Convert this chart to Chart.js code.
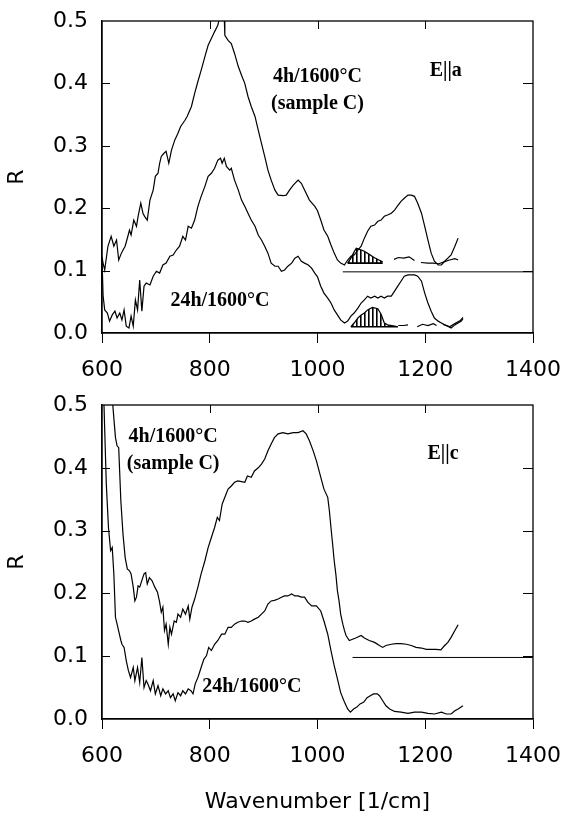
<!DOCTYPE html>
<html>
<head>
<meta charset="utf-8">
<script src="https://cdn.jsdelivr.net/npm/chart.js@4.4.1/dist/chart.umd.min.js"></script>
<style>
  body { margin: 0; background: #fff; }
  canvas { position: absolute; left: 0; }
  #top { top: 0; }
  #bottom { top: 390px; }
</style>
</head>
<body>
<canvas id="top" width="564" height="390"></canvas>
<canvas id="bottom" width="564" height="426"></canvas>
<script>
// ---- E||a panel: 4h/1600°C (sample C) ----
const wnA4 = [600,602,605,611,617,622,627,631,636,639,643,648,651,654,659,664,667,672,676,679,684,689,695,699,704,707,710,715,719,724,729,735,741,746,754,758,766,772,778,784,791,797,803,809,815,818,823,827,828,834,840,846,853,859,865,871,877,884,890,896,902,908,914,921,927,936,942,948,955,964,970,976,985,995,1000,1006,1012,1019,1025,1031,1037,1043,1050,1056,1062,1068,1075,1081,1087,1093,1099,1106,1112,1118,1124,1130,1137,1143,1149,1155,1161,1168,1174,1180,1186,1193,1199,1205,1211,1217,1224,1230,1236,1242,1248,1255,1261];
const rA4 = [0.122,0.112,0.101,0.139,0.155,0.139,0.149,0.117,0.128,0.133,0.139,0.155,0.165,0.157,0.181,0.171,0.187,0.208,0.192,0.187,0.181,0.213,0.229,0.251,0.256,0.272,0.283,0.288,0.291,0.272,0.293,0.309,0.32,0.331,0.341,0.347,0.363,0.384,0.403,0.421,0.443,0.461,0.472,0.483,0.493,0.505,0.51,0.505,0.477,0.469,0.464,0.448,0.427,0.413,0.4,0.379,0.363,0.347,0.325,0.304,0.283,0.261,0.245,0.229,0.221,0.22,0.221,0.229,0.237,0.245,0.24,0.229,0.213,0.203,0.196,0.181,0.165,0.155,0.141,0.128,0.117,0.112,0.109,0.117,0.123,0.125,0.133,0.139,0.152,0.163,0.171,0.173,0.179,0.181,0.187,0.189,0.192,0.197,0.204,0.211,0.216,0.221,0.221,0.219,0.208,0.192,0.171,0.149,0.128,0.115,0.109,0.109,0.115,0.12,0.125,0.139,0.152];

// ---- E||a panel: 24h/1600°C ----
const wnA24 = [600,602,605,610,614,619,624,628,633,637,641,645,650,654,658,662,666,670,674,678,682,689,695,701,707,713,719,726,732,738,744,750,755,760,766,772,778,784,791,797,803,809,815,820,823,827,831,837,840,846,853,859,865,871,877,884,890,896,902,908,914,921,927,933,939,945,952,958,964,970,976,983,989,995,1000,1006,1012,1019,1025,1031,1037,1043,1050,1056,1062,1068,1075,1081,1087,1093,1099,1106,1112,1118,1124,1130,1137,1143,1149,1155,1161,1168,1174,1180,1186,1193,1199,1205,1211,1217,1224,1230,1236,1242,1248,1255,1261,1267,1270];
const rA24 = [0.12,0.06,0.037,0.032,0.019,0.029,0.035,0.024,0.032,0.021,0.037,0.011,0.008,0.027,0.011,0.053,0.037,0.085,0.035,0.075,0.08,0.077,0.091,0.099,0.096,0.109,0.112,0.123,0.125,0.133,0.139,0.155,0.149,0.171,0.168,0.181,0.203,0.219,0.235,0.251,0.256,0.264,0.277,0.28,0.272,0.28,0.267,0.261,0.264,0.245,0.229,0.213,0.203,0.192,0.181,0.171,0.157,0.149,0.139,0.128,0.112,0.107,0.107,0.099,0.101,0.107,0.112,0.12,0.123,0.115,0.112,0.109,0.104,0.096,0.09,0.075,0.064,0.056,0.048,0.037,0.029,0.021,0.016,0.019,0.027,0.032,0.04,0.048,0.053,0.059,0.056,0.059,0.056,0.059,0.056,0.059,0.059,0.067,0.075,0.083,0.091,0.093,0.093,0.093,0.091,0.083,0.064,0.048,0.035,0.024,0.019,0.016,0.013,0.011,0.008,0.013,0.016,0.019,0.023];

// hatched bands + broken traces under the 1100 band (E||a)
const wnHatchA = [1056,1062,1068,1072,1078,1087,1096,1105,1114,1121];
const rHatchA = [0.112,0.12,0.13,0.136,0.134,0.131,0.126,0.121,0.117,0.114];
const baseHatchA = 0.112;
const wnTraceA = [1142,1150,1160,1170,1180,1186,1192,1205,1215,1225,1235,1245,1255,1261];
const rTraceA = [0.118,0.121,0.12,0.122,0.116,null,0.113,0.112,0.112,0.111,0.114,0.117,0.119,0.117];

const wnHatchB = [1062,1068,1075,1081,1087,1093,1102,1112,1118,1124,1130,1143,1149];
const rHatchB = [0.01,0.016,0.024,0.029,0.032,0.037,0.041,0.039,0.03,0.016,0.013,0.011,0.01];
const baseHatchB = 0.01;
const wnTraceB = [1150,1160,1168,1176,1185,1195,1205,1215,1221,1227,1233,1245,1255,1265,1270];
const rTraceB = [0.012,0.012,0.013,null,0.01,0.014,0.012,0.015,0.012,null,0.014,0.01,0.015,0.02,0.025];

// offset reference lines
const wnRefA = [1047, 1400];
const wnRefC = [1065, 1400];
const rRef = 0.098;

// ---- E||c panel: 4h/1600°C (sample C) ----
const wnC4 = [618,620,625,628,631,635,639,643,647,651,654,658,661,664,667,670,673,678,681,684,688,693,698,703,707,710,713,716,719,723,726,729,734,738,741,746,750,755,760,763,767,772,778,784,791,797,803,809,814,818,823,828,834,840,846,852,859,865,870,877,883,890,896,902,908,914,920,927,936,945,955,964,973,979,985,992,998,1006,1012,1019,1022,1025,1028,1031,1034,1037,1040,1043,1047,1050,1053,1059,1065,1071,1081,1087,1096,1106,1115,1121,1127,1137,1146,1155,1165,1174,1183,1193,1202,1211,1220,1229,1236,1242,1248,1255,1261];
const rC4 = [0.56,0.5,0.448,0.435,0.432,0.347,0.294,0.257,0.239,0.236,0.231,0.21,0.188,0.194,0.212,0.21,0.218,0.231,0.233,0.215,0.225,0.22,0.21,0.202,0.186,0.17,0.178,0.141,0.151,0.119,0.146,0.135,0.156,0.154,0.167,0.162,0.175,0.167,0.18,0.159,0.178,0.191,0.21,0.231,0.252,0.273,0.289,0.305,0.321,0.316,0.342,0.353,0.366,0.371,0.377,0.379,0.378,0.377,0.387,0.385,0.395,0.4,0.406,0.414,0.427,0.438,0.448,0.454,0.456,0.454,0.456,0.456,0.459,0.454,0.443,0.427,0.411,0.385,0.366,0.353,0.332,0.305,0.279,0.252,0.231,0.204,0.188,0.167,0.151,0.141,0.133,0.125,0.127,0.129,0.133,0.129,0.125,0.122,0.117,0.114,0.117,0.119,0.12,0.12,0.119,0.117,0.114,0.113,0.111,0.111,0.111,0.11,0.117,0.122,0.13,0.141,0.15];

// ---- E||c panel: 24h/1600°C ----
const wnC24 = [603,608,612,616,619,622,625,628,631,635,637,641,645,649,653,658,661,666,670,674,678,682,685,690,695,699,704,709,713,718,723,727,732,736,741,746,750,755,760,765,769,773,778,784,789,794,798,803,809,815,822,828,834,840,846,852,859,865,871,877,883,890,896,902,908,914,920,927,933,939,945,952,958,964,970,976,982,989,998,1006,1012,1019,1025,1031,1037,1043,1050,1056,1061,1067,1073,1079,1086,1092,1098,1104,1111,1115,1121,1127,1134,1143,1155,1168,1180,1193,1205,1217,1230,1239,1248,1255,1261,1270];
const rC24 = [0.52,0.374,0.305,0.268,0.273,0.231,0.162,0.151,0.14,0.125,0.119,0.114,0.093,0.077,0.066,0.082,0.061,0.082,0.058,0.098,0.05,0.061,0.056,0.045,0.061,0.04,0.053,0.037,0.048,0.04,0.045,0.034,0.04,0.029,0.042,0.037,0.045,0.04,0.048,0.045,0.04,0.056,0.066,0.082,0.095,0.101,0.114,0.109,0.119,0.125,0.135,0.135,0.146,0.146,0.151,0.154,0.156,0.156,0.154,0.156,0.159,0.162,0.167,0.172,0.183,0.188,0.189,0.191,0.194,0.196,0.196,0.199,0.196,0.196,0.194,0.194,0.186,0.18,0.18,0.172,0.156,0.135,0.109,0.085,0.064,0.042,0.027,0.016,0.011,0.016,0.019,0.024,0.027,0.034,0.037,0.04,0.04,0.037,0.029,0.021,0.016,0.012,0.011,0.009,0.011,0.011,0.009,0.008,0.011,0.008,0.008,0.013,0.016,0.021];

const xTicks = [600, 800, 1000, 1200, 1400];
const yTicks = [0.0, 0.1, 0.2, 0.3, 0.4, 0.5];

Chart.defaults.font.family = 'DejaVu Sans';
Chart.defaults.color = '#000';

const pts = (xs, ys) => xs.map((x, i) => ({ x, y: ys[i] }));
const flat = (xs, v) => xs.length ? [{ x: xs[0], y: v }, { x: xs[xs.length - 1], y: v }] : [];

function hatchPattern(ctx) {
    const c = document.createElement('canvas');
    c.width = 4; c.height = 4;
    const g = c.getContext('2d');
    g.fillStyle = '#000';
    g.fillRect(0, 0, 1.6, 4);
    return ctx.createPattern(c, 'repeat');
}

const line = (data, extra) => Object.assign({
    data, borderColor: '#000', borderWidth: 1.2, pointRadius: 0, fill: false, tension: 0
}, extra || {});

// inward ticks on left/right/top + frame
const frame = {
    id: 'frame',
    afterDraw(chart) {
        const { ctx, chartArea: a, scales: { x, y } } = chart;
        ctx.save();
        ctx.strokeStyle = '#000';
        ctx.lineWidth = 1;
        ctx.beginPath();
        y.ticks.forEach(t => {
            if (t.value <= y.min || t.value >= y.max) return;
            const py = Math.round(y.getPixelForValue(t.value)) + 0.5;
            ctx.moveTo(a.left, py); ctx.lineTo(a.left + 8, py);
            ctx.moveTo(a.right - 10, py); ctx.lineTo(a.right, py);
        });
        x.ticks.forEach(t => {
            if (t.value <= x.min || t.value >= x.max) return;
            const px = Math.round(x.getPixelForValue(t.value)) + 0.5;
            ctx.moveTo(px, a.top); ctx.lineTo(px, a.top + 8);
        });
        ctx.stroke();
        ctx.lineWidth = 1.3;
        ctx.strokeRect(a.left, a.top, a.right - a.left, a.bottom - a.top);
        ctx.restore();
    }
};

// bold serif labels placed in data coordinates
const notes = {
    id: 'notes',
    afterDatasetsDraw(chart, args, opts) {
        const { ctx, scales: { x, y } } = chart;
        ctx.save();
        ctx.fillStyle = '#000';
        ctx.font = 'bold 20px "Liberation Serif", "Times New Roman", serif';
        ctx.textAlign = 'center';
        ctx.textBaseline = 'alphabetic';
        (opts.items || []).forEach(n => ctx.fillText(n.text, x.getPixelForValue(n.x), y.getPixelForValue(n.y)));
        ctx.restore();
    }
};

function makeChart(id, datasets, cfg) {
    const ctx = document.getElementById(id).getContext('2d');
    return new Chart(ctx, {
        type: 'line',
        data: { datasets },
        options: {
            responsive: false,
            animation: false,
            layout: { padding: { top: cfg.padTop, right: 31, left: 0, bottom: 0 } },
            plugins: { legend: { display: false }, tooltip: { enabled: false }, notes: { items: cfg.notes } },
            scales: {
                x: {
                    type: 'linear', min: 600, max: 1400,
                    afterBuildTicks: s => { s.ticks = xTicks.map(v => ({ value: v })); },
                    afterFit: s => { s.height = cfg.xHeight; s.paddingLeft = 0; s.paddingRight = 0; },
                    grid: { drawOnChartArea: false, drawTicks: true, tickLength: 10, color: '#000', lineWidth: 1 },
                    border: { color: '#000', width: 1.3 },
                    ticks: { font: { size: 22 }, padding: 14, maxRotation: 0, callback: v => String(v) },
                    title: { display: !!cfg.xTitle, text: cfg.xTitle || '', font: { size: 22 }, padding: { top: 0, bottom: 1 } }
                },
                y: {
                    type: 'linear', min: 0, max: 0.5,
                    afterBuildTicks: s => { s.ticks = yTicks.map(v => ({ value: v })); },
                    afterFit: s => { s.width = 102; s.paddingTop = 0; s.paddingBottom = 0; },
                    grid: { display: false, drawTicks: false },
                    border: { color: '#000', width: 1.3 },
                    ticks: { font: { size: 22 }, padding: 14, callback: v => v.toFixed(1) },
                    title: { display: true, text: 'R', font: { size: 22 }, padding: { top: 4, bottom: 0 } }
                }
            }
        },
        plugins: [frame, notes]
    });
}

const topCtx = document.getElementById('top').getContext('2d');
const pattern = hatchPattern(topCtx);

makeChart('top', [
    line(pts(wnA4, rA4)),
    line(pts(wnA24, rA24)),
    line(flat(wnRefA, rRef), { borderWidth: 1 }),
    line(pts(wnHatchA, rHatchA), { fill: { value: baseHatchA }, backgroundColor: pattern }),
    line(flat(wnHatchA, baseHatchA), { borderWidth: 1.6 }),
    line(pts(wnTraceA, rTraceA)),
    line(pts(wnHatchB, rHatchB), { fill: { value: baseHatchB }, backgroundColor: pattern }),
    line(flat(wnHatchB, baseHatchB), { borderWidth: 1.6 }),
    line(pts(wnTraceB, rTraceB))
], {
    padTop: 21, xHeight: 57, xTitle: null,
    notes: [
        { text: '4h/1600°C', x: 1000, y: 0.403 },
        { text: '(sample C)', x: 1000, y: 0.359 },
        { text: 'E||a', x: 1238, y: 0.412 },
        { text: '24h/1600°C', x: 819, y: 0.044 }
    ]
});

makeChart('bottom', [
    line(pts(wnC4, rC4)),
    line(pts(wnC24, rC24)),
    line(flat(wnRefC, rRef), { borderWidth: 1 })
], {
    padTop: 15, xHeight: 97, xTitle: 'Wavenumber [1/cm]',
    notes: [
        { text: '4h/1600°C', x: 732, y: 0.4416 },
        { text: '(sample C)', x: 732, y: 0.3976 },
        { text: 'E||c', x: 1233, y: 0.414 },
        { text: '24h/1600°C', x: 878, y: 0.0435 }
    ]
});
</script>
</body>
</html>
